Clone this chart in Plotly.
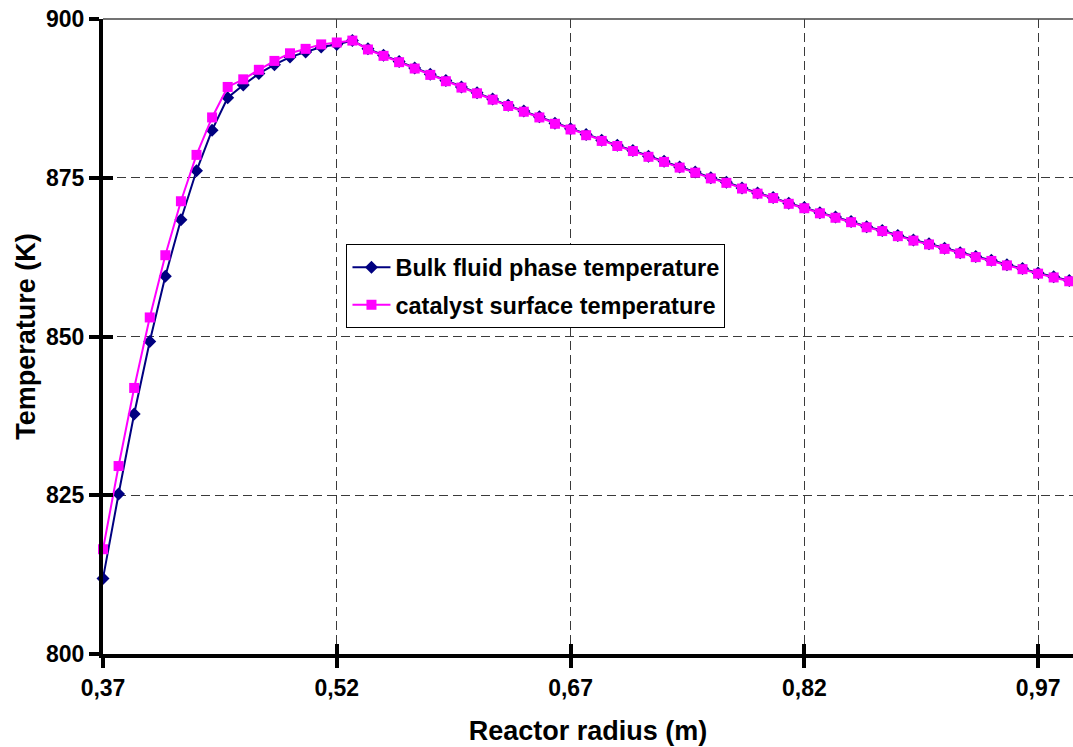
import plotly.graph_objects as go

# ---- data ----
radius = [0.37, 0.38, 0.39, 0.40, 0.41, 0.42, 0.43, 0.44, 0.45, 0.46,
          0.47, 0.48, 0.49, 0.50, 0.51, 0.52, 0.53, 0.54, 0.55, 0.56,
          0.57, 0.58, 0.59, 0.60, 0.61, 0.62, 0.63, 0.64, 0.65, 0.66,
          0.67, 0.68, 0.69, 0.70, 0.71, 0.72, 0.73, 0.74, 0.75, 0.76,
          0.77, 0.78, 0.79, 0.80, 0.81, 0.82, 0.83, 0.84, 0.85, 0.86,
          0.87, 0.88, 0.89, 0.90, 0.91, 0.92, 0.93, 0.94, 0.95, 0.96,
          0.97, 0.98, 0.99]

bulk_temp = [811.9, 825.2, 837.8, 849.2, 859.5, 868.4, 876.1, 882.5, 887.6, 889.6,
             891.4, 892.8, 894.0, 894.8, 895.6, 896.0, 896.6, 895.3, 894.3, 893.3,
             892.3, 891.3, 890.3, 889.3, 888.4, 887.4, 886.4, 885.5, 884.6, 883.6,
             882.7, 881.8, 880.9, 880.1, 879.3, 878.4, 877.6, 876.7, 875.9, 875.0,
             874.3, 873.4, 872.6, 871.9, 871.0, 870.3, 869.5, 868.8, 868.1, 867.3,
             866.7, 865.9, 865.2, 864.6, 863.9, 863.2, 862.6, 862.0, 861.3, 860.7,
             860.0, 859.4, 858.8]

catalyst_temp = [816.5, 829.6, 841.9, 853.0, 862.8, 871.3, 878.6, 884.5, 889.3, 890.5,
                 892.0, 893.4, 894.6, 895.3, 896.0, 896.3, 896.6, 895.2, 894.2, 893.2,
                 892.2, 891.2, 890.2, 889.2, 888.3, 887.3, 886.3, 885.4, 884.5, 883.5,
                 882.6, 881.7, 880.8, 880.0, 879.2, 878.3, 877.5, 876.6, 875.8, 874.9,
                 874.2, 873.3, 872.5, 871.8, 870.9, 870.2, 869.4, 868.7, 868.0, 867.2,
                 866.6, 865.8, 865.1, 864.5, 863.8, 863.1, 862.5, 861.9, 861.2, 860.6,
                 859.9, 859.3, 858.7]

x_ticks = [0.37, 0.52, 0.67, 0.82, 0.97]
y_ticks = [800, 825, 850, 875, 900]
x_range = [0.37, 0.9924]
y_range = [800, 900]

FONT = "Arial, Liberation Sans, sans-serif"

fig = go.Figure()
fig.add_trace(go.Scatter(
    x=radius, y=bulk_temp, mode="lines+markers",
    name="Bulk fluid phase temperature", legendgroup="a",
    line=dict(color="#000080", width=2),
    marker=dict(symbol="diamond", size=10, color="#000080"),
    cliponaxis=False,
))
fig.add_trace(go.Scatter(
    x=radius, y=catalyst_temp, mode="lines+markers",
    name="catalyst surface temperature", legendgroup="b",
    line=dict(color="#FF00FF", width=2),
    marker=dict(symbol="square", size=10, color="#FF00FF"),
    cliponaxis=False,
))
# invisible trace to activate the overlay axes used for the inner half of cross ticks
fig.add_trace(go.Scatter(
    x=radius, y=bulk_temp, xaxis="x2", yaxis="y2", mode="lines",
    opacity=0, showlegend=False, hoverinfo="skip",
))

grid = dict(showgrid=True, gridcolor="#3a3a3a", gridwidth=1, griddash="9px,5px")
common_ticks = dict(ticks="outside", ticklen=10, tickwidth=4, tickcolor="black",
                    showline=True, linewidth=4, linecolor="black", zeroline=False,
                    tickfont=dict(family=FONT, size=23, color="black", weight="bold"))

fig.update_layout(
    width=1073, height=747,
    margin=dict(l=103, r=0, t=19, b=93),
    paper_bgcolor="white", plot_bgcolor="white",
    separators=",.",
    font=dict(family=FONT, color="black"),
    xaxis=dict(range=x_range, tickmode="array", tickvals=x_ticks, tickformat=".2f",
               title=dict(text="Reactor radius (m)", standoff=23,
                          font=dict(family=FONT, size=27, color="black", weight="bold")),
               **grid, **common_ticks),
    yaxis=dict(range=y_range, tickmode="array", tickvals=y_ticks,
               title=dict(text="Temperature (K)", standoff=4,
                          font=dict(family=FONT, size=27, color="black", weight="bold")),
               **grid, **common_ticks),
    xaxis2=dict(overlaying="x", anchor="y", range=x_range, tickmode="array", tickvals=x_ticks,
                ticks="inside", ticklen=10, tickwidth=4, tickcolor="black",
                showticklabels=False, showgrid=False, showline=False, zeroline=False),
    yaxis2=dict(overlaying="y", anchor="x", side="left", range=y_range, tickmode="array",
                tickvals=y_ticks, ticks="inside", ticklen=10, tickwidth=4, tickcolor="black",
                showticklabels=False, showgrid=False, showline=False, zeroline=False),
    legend=dict(x=0.251, y=0.645, xanchor="left", yanchor="top",
                bgcolor="white", bordercolor="black", borderwidth=1,
                tracegroupgap=4, itemwidth=38,
                entrywidth=380, entrywidthmode="pixels",
                font=dict(family=FONT, size=23.5, color="black", weight="bold")),
    shapes=[dict(type="line", xref="paper", yref="paper", x0=0, x1=1, y0=1, y1=1,
                 line=dict(color="#444444", width=1.5))],
    showlegend=True,
)

fig.write_html("out.html")
